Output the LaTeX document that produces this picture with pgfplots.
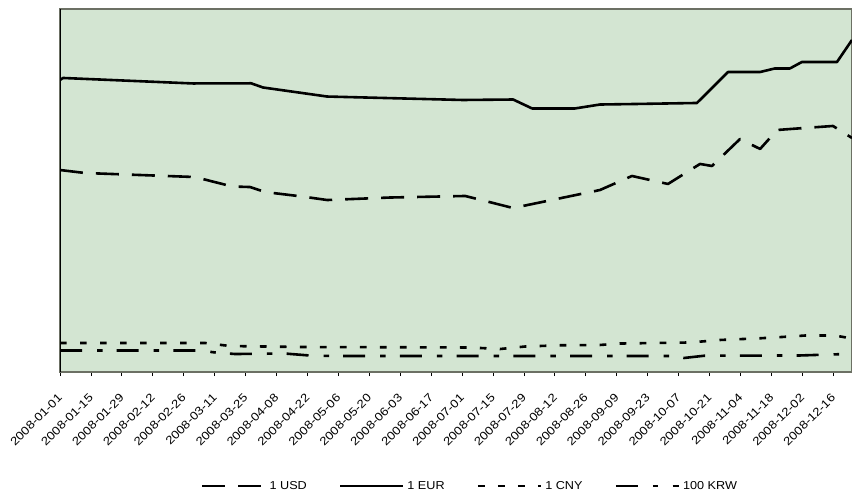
\documentclass[border=0pt]{standalone}
\usepackage{pgfplots}
\pgfplotsset{compat=1.18}
\usepackage{fontspec}
\setmainfont{Liberation Sans}
\newfontfamily\tickfont[FakeStretch=1.15]{Liberation Sans}
\newfontfamily\legfont[FakeStretch=1.1]{Liberation Sans}
\definecolor{plotbg}{RGB}{211,229,210}
\definecolor{framegray}{RGB}{108,112,100}
\begin{document}
\begin{tikzpicture}
\useasboundingbox (0,0) rectangle (852bp,492bp);
\begin{axis}[
  at={(60bp,120bp)}, anchor=south west,
  scale only axis, width=792bp, height=363bp,
  xmin=0, xmax=358.5, ymin=0, ymax=45,
  axis background/.style={fill=plotbg},
  axis line style={draw=framegray, line width=1.5bp},
  ytick=\empty,
  xtick={0,14,...,350},
  xticklabels={2008-01-01,2008-01-15,2008-01-29,2008-02-12,2008-02-26,2008-03-11,2008-03-25,2008-04-08,2008-04-22,2008-05-06,2008-05-20,2008-06-03,2008-06-17,2008-07-01,2008-07-15,2008-07-29,2008-08-12,2008-08-26,2008-09-09,2008-09-23,2008-10-07,2008-10-21,2008-11-04,2008-11-18,2008-12-02,2008-12-16},
  tick align=outside, xtick pos=bottom,
  major tick length=4bp,
  tick style={black, line width=0.8bp},
  xticklabel style={font=\tickfont\fontsize{11.5bp}{13bp}\selectfont, rotate=45, anchor=north east, inner sep=0pt, outer xsep=14bp, outer ysep=10bp},
  legend columns=4,
  legend style={draw=none, fill=none, at={(0.5177,-0.314)}, anchor=center,
     font=\legfont\fontsize{11.5bp}{13bp}\selectfont,
     /tikz/every even column/.append style={column sep=30bp},
     /tikz/every odd column/.append style={column sep=1bp}},
  legend image code/.code={\draw[#1] (0bp,0bp) -- (63bp,0bp);},
  every axis plot/.append style={line width=2.6bp, black, line join=round},
]
% 1 USD
\addplot[dash pattern=on 23bp off 13bp] coordinates {
(0,25.04) (11.3,24.67) (61.1,24.17) (77.9,23.00) (86,22.93) (92.8,22.31) (110.4,21.73) (120.9,21.32) (149.4,21.63) (183.4,21.82) (205.1,20.33) (244.4,22.56) (258.9,24.30) (275.2,23.31) (289.7,25.79) (295.1,25.54) (307.8,28.88) (316.9,27.65) (324.6,30.00) (330.4,30.12) (349.9,30.50) (358.5,29.01)
};
\addlegendentry{1 USD}
% 1 EUR
\addplot[solid] coordinates {
(0,36.20) (1.4,36.45) (60.2,35.77) (86.5,35.79) (91.9,35.27) (120.9,34.15) (182.4,33.72) (205.1,33.78) (213.7,32.67) (233.1,32.67) (244.4,33.16) (259.4,33.22) (288.3,33.35) (302.4,37.19) (316.9,37.19) (323.6,37.63) (330.4,37.63) (335.8,38.43) (351.7,38.43) (358.5,41.16)
};
\addlegendentry{1 EUR}
% 1 CNY
\addplot[dash pattern=on 6.7bp off 13.3bp] coordinates {
(0,3.60) (65.6,3.60) (77,3.22) (108.6,3.10) (185.6,3.04) (199.2,2.85) (210.5,3.16) (226.3,3.31) (244.4,3.35) (253.5,3.53) (285.2,3.66) (298.8,3.97) (316.9,4.18) (330.4,4.40) (337.2,4.52) (350.8,4.52) (358.5,4.15)
};
\addlegendentry{1 CNY}
% 100 KRW
\addplot[dash pattern=on 22bp off 15bp on 5.5bp off 14.2bp] coordinates {
(0,2.67) (63.4,2.67) (70.2,2.42) (79.2,2.23) (101.8,2.29) (114.1,2.02) (126.7,1.98) (277,1.98) (282.5,1.74) (291.7,2.02) (335,2.05) (350.8,2.19) (358.5,2.23)
};
\addlegendentry{100 KRW}
\draw[black, line width=1bp] (rel axis cs:0,1) -- (rel axis cs:0,0) -- (rel axis cs:1,0);
\end{axis}
\end{tikzpicture}
\end{document}
